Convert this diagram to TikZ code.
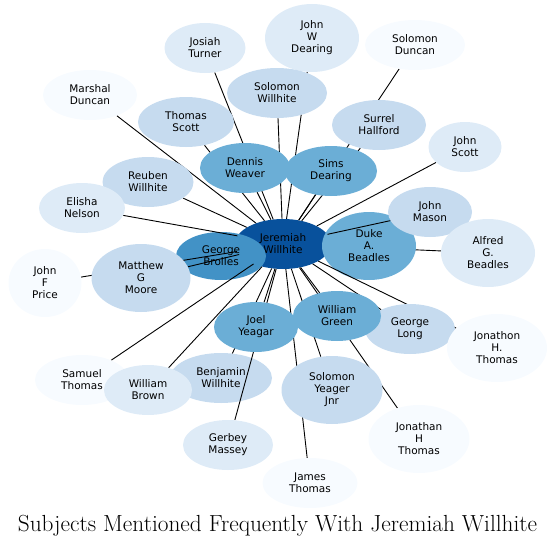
\documentclass[tikz,border=0pt]{standalone}
\usepackage{fontspec}
\newfontfamily\namefont{DejaVu Sans}
\usetikzlibrary{shapes.geometric}

\definecolor{shadeA}{HTML}{08519C}
\definecolor{shadeB}{HTML}{4292C6}
\definecolor{shadeC}{HTML}{6BAED6}
\definecolor{shadeD}{HTML}{C6DBEF}
\definecolor{shadeE}{HTML}{DEEBF7}
\definecolor{shadeF}{HTML}{F7FBFF}

\pgfdeclarelayer{under}
\pgfdeclarelayer{base}
\pgfdeclarelayer{wires}
\pgfsetlayers{under,base,wires,main}

\begin{document}
\begin{tikzpicture}[x=1pt,y=-1pt,
  person/.style={ellipse,inner sep=0pt,align=center,minimum height=50,
    font=\namefont\fontsize{10.5}{12}\selectfont},
  tall/.style={minimum height=68},
  link/.style={line width=0.9pt}]
\useasboundingbox (0,0) rectangle (556,543);

% the nodes that lines may run over
\begin{pgfonlayer}{base}
  \node[person,fill=shadeA,minimum width=96] (jw) at (283,244) {Jeremiah\\Willhite};
  \node[person,fill=shadeB,minimum width=90,minimum height=48] (gb) at (221,256) {George\\Brolles};
  \node[person,tall,fill=shadeC,minimum width=94] (dab) at (369,246) {Duke\\A.\\Beadles};
  \node[person,fill=shadeD,minimum width=102] (bw) at (221,378) {Benjamin\\Willhite};
\end{pgfonlayer}

% everybody else
\node[person,fill=shadeD,minimum width=84] (jm) at (430,212) {John\\Mason};
\node[person,tall,fill=shadeE,minimum width=94] (agb) at (488,253) {Alfred\\G.\\Beadles};
\node[person,fill=shadeE,minimum width=73] (jsc) at (465,147) {John\\Scott};
\node[person,fill=shadeD,minimum width=94] (sh) at (379,125) {Surrel\\Hallford};
\node[person,fill=shadeF,minimum width=100] (sd) at (415,45) {Solomon\\Duncan};
\node[person,tall,fill=shadeE,minimum width=94] (jwd) at (312,38) {John\\W\\Dearing};
\node[person,fill=shadeD,minimum width=100] (sw) at (277,93) {Solomon\\Willhite};
\node[person,fill=shadeE,minimum width=81] (jt) at (205,48) {Josiah\\Turner};
\node[person,fill=shadeD,minimum width=96] (ts) at (186,122) {Thomas\\Scott};
\node[person,fill=shadeF,minimum width=94] (md) at (90,95) {Marshal\\Duncan};
\node[person,fill=shadeC,minimum width=90] (dw) at (245,168) {Dennis\\Weaver};
\node[person,fill=shadeC,minimum width=92] (sdr) at (331,171) {Sims\\Dearing};
\node[person,fill=shadeD,minimum width=91] (rw) at (148,182) {Reuben\\Willhite};
\node[person,fill=shadeE,minimum width=86] (en) at (82,208) {Elisha\\Nelson};
\node[person,tall,fill=shadeD,minimum width=99] (mgm) at (141,278) {Matthew\\G\\Moore};
\node[person,tall,fill=shadeF,minimum width=73] (jfp) at (45,283) {John\\F\\Price};
\node[person,fill=shadeF,minimum width=94] (st) at (82,380) {Samuel\\Thomas};
\node[person,fill=shadeE,minimum width=88] (wb) at (148,390) {William\\Brown};
\node[person,fill=shadeE,minimum width=90] (gm) at (228,445) {Gerbey\\Massey};
\node[person,fill=shadeC,minimum width=84] (jy) at (256,327) {Joel\\Yeagar};
\node[person,fill=shadeD,minimum width=90] (gl) at (410,329) {George\\Long};
\node[person,fill=shadeC,minimum width=88] (wg) at (337,316) {William\\Green};
\node[person,tall,fill=shadeF,minimum width=100] (jht) at (497,348) {Jonathon\\H.\\Thomas};
\node[person,tall,fill=shadeD,minimum width=101] (syj) at (332,390) {Solomon\\Yeager\\Jnr};
\node[person,tall,fill=shadeF,minimum width=101] (jhth) at (419,439) {Jonathan\\H\\Thomas};
\node[person,fill=shadeF,minimum width=95] (jth) at (310,483) {James\\Thomas};

% lines hidden below the base nodes
\begin{pgfonlayer}{under}
  \draw[link] (jw) -- (gb);
  \draw[link] (jw) -- (dab);
  \draw[link] (jw) -- (agb);
\end{pgfonlayer}

\begin{pgfonlayer}{wires}
  \draw[link] (jw) -- (bw);
  \draw[link] (jw) -- (jm);
  \draw[link] (jw) -- (jsc);
  \draw[link] (jw) -- (sh);
  \draw[link] (jw) -- (sd);
  \draw[link] (jw) -- (jwd);
  \draw[link] (jw) -- (sw);
  \draw[link] (jw) -- (jt);
  \draw[link] (jw) -- (ts);
  \draw[link] (jw) -- (md);
  \draw[link] (jw) -- (dw);
  \draw[link] (jw) -- (sdr);
  \draw[link] (jw) -- (rw);
  \draw[link] (jw) -- (en);
  \draw[link] (jw) -- (mgm);
  \draw[link] (jw) -- (jfp);
  \draw[link] (jw) -- (st);
  \draw[link] (jw) -- (wb);
  \draw[link] (jw) -- (gm);
  \draw[link] (jw) -- (jy);
  \draw[link] (jw) -- (gl);
  \draw[link] (jw) -- (wg);
  \draw[link] (jw) -- (jht);
  \draw[link] (jw) -- (syj);
  \draw[link] (jw) -- (jhth);
  \draw[link] (jw) -- (jth);
\end{pgfonlayer}

\node[anchor=base,font=\fontsize{23.3}{27}\selectfont] (title) at (277.5,531) {Subjects Mentioned Frequently With Jeremiah Willhite};
\end{tikzpicture}
\end{document}
